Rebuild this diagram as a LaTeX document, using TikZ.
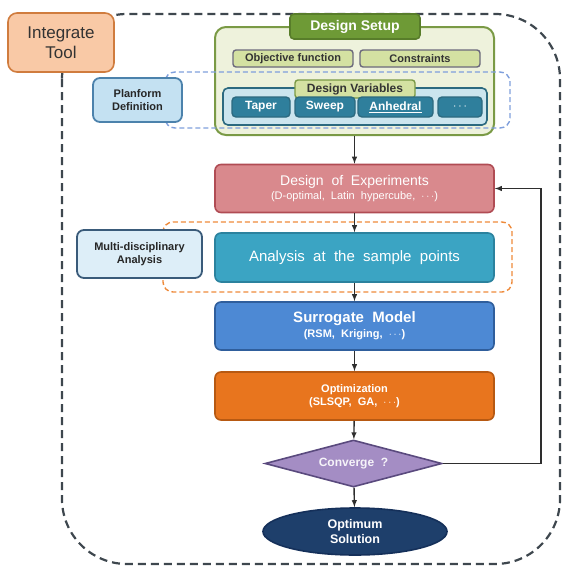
\documentclass[tikz,border=0pt]{standalone}
\usepackage{fontspec}
\setmainfont{Liberation Sans}
\usetikzlibrary{shapes.geometric}
\usetikzlibrary{arrows.meta}
\tikzset{>=latex}
\definecolor{toolfill}{HTML}{F9C9A6}
\definecolor{tooldraw}{HTML}{D07C3E}
\definecolor{setupfill}{HTML}{EEF2DC}
\definecolor{setupdraw}{HTML}{7A9A45}
\definecolor{titlefill}{HTML}{6E9A36}
\definecolor{titledraw}{HTML}{587D2A}
\definecolor{itemfill}{HTML}{D4E1A2}
\definecolor{itemdraw}{HTML}{6C6A7C}
\definecolor{varfill}{HTML}{CBE5EE}
\definecolor{vardraw}{HTML}{2C6A80}
\definecolor{varbox}{HTML}{2F7F9C}
\definecolor{planfill}{HTML}{C4E1F2}
\definecolor{plandraw}{HTML}{4C82AC}
\definecolor{plandash}{HTML}{7F9FDC}
\definecolor{doefill}{HTML}{D9898D}
\definecolor{doedraw}{HTML}{B04C54}
\definecolor{mdafill}{HTML}{DDEEF8}
\definecolor{mdadraw}{HTML}{3A5B7A}
\definecolor{mdadash}{HTML}{EE8A3A}
\definecolor{anafill}{HTML}{3BA4C3}
\definecolor{anadraw}{HTML}{2B829E}
\definecolor{surfill}{HTML}{4D89D4}
\definecolor{surdraw}{HTML}{2F5E9C}
\definecolor{optfill}{HTML}{E8751E}
\definecolor{optdraw}{HTML}{B75912}
\definecolor{convfill}{HTML}{A48DC4}
\definecolor{convdraw}{HTML}{5A4A7E}
\definecolor{solfill}{HTML}{1E3F6B}
\definecolor{soldraw}{HTML}{15305A}
\definecolor{outline}{HTML}{3E474E}
\definecolor{flow}{HTML}{2E2E2E}
\tikzset{box/.style={rectangle,rounded corners=6pt,line width=1.6pt,inner sep=0pt,align=center,text=white,font=\bfseries\fontsize{11}{13}\selectfont}}
\tikzset{stage/.style={box,minimum width=279pt,minimum height=48pt}}
\tikzset{item/.style={box,text=black!80,fill=itemfill,draw=itemdraw,rounded corners=3pt,line width=1.4pt,minimum height=17pt}}
\tikzset{var/.style={box,fill=varbox,draw=vardraw,rounded corners=4pt,line width=1.4pt,minimum height=20pt,font=\bfseries\fontsize{12}{14}\selectfont}}
\tikzset{side/.style={box,text=black!85,rounded corners=7pt,line width=1.8pt,font=\bfseries\fontsize{11}{13.5}\selectfont}}
\tikzset{group/.style={rounded corners=10pt,line width=1.4pt,dash pattern=on 5pt off 3pt}}
\tikzset{link/.style={->,line width=1.4pt,draw=flow}}

\begin{document}
\begin{tikzpicture}[x=1pt,y=-1pt]
\useasboundingbox (0,0) rectangle (563,566);
\draw[outline,line width=2.2pt,dash pattern=on 8pt off 5pt,rounded corners=65pt] (62,14) rectangle (560,564);
\node[box,fill=toolfill,draw=tooldraw,text=black!80,rounded corners=9pt,minimum width=106pt,minimum height=59pt,font=\fontsize{17}{20}\selectfont] (tool) at (61,42.5) {Integrate\\Tool};

\node[box,fill=setupfill,draw=setupdraw,rounded corners=11pt,line width=2pt,minimum width=279pt,minimum height=108pt] (setup) at (354.5,81) {};
\draw[group,draw=plandash] (165,72) rectangle (510,128);
\node[box,fill=titlefill,draw=titledraw,rounded corners=4pt,minimum width=130pt,minimum height=25pt,font=\bfseries\fontsize{14}{16}\selectfont] (title) at (355,26.5) {Design Setup};
\node[item,minimum width=120pt] (obj) at (293,58.5) {Objective function};
\node[item,minimum width=120pt] (con) at (420,58.5) {Constraints};
\node[box,fill=varfill,draw=vardraw,rounded corners=5pt,minimum width=264pt,minimum height=37pt] (vars) at (355,106.5) {};
\node[item,draw=setupdraw,minimum width=120pt,minimum height=18pt,font=\bfseries\fontsize{12}{14}\selectfont] (varlabel) at (355,89) {Design Variables};
\node[var,minimum width=58pt] (taper) at (261,107) {Taper};
\node[var,minimum width=60pt] (sweep) at (325,107) {Sweep};
\node[var,minimum width=75pt] (anh) at (395.5,107) {\underline{Anhedral}};
\node[var,minimum width=44pt] (more) at (460,107) {$\cdots$};
\node[side,fill=planfill,draw=plandraw,minimum width=89pt,minimum height=44pt] (plan) at (137.5,100) {Planform\\Definition};

\node[stage,fill=doefill,draw=doedraw,font=\fontsize{14}{15}\selectfont] (doe) at (354.5,188.5) {Design\ \ of\ \ Experiments\\[-1pt]{\fontsize{11}{13}\selectfont(D-optimal,\ \ Latin\ \ hypercube,\ \ $\cdots$)}};
\draw[group,draw=mdadash] (163,222) rectangle (512,292);
\node[stage,fill=anafill,draw=anadraw,minimum height=49pt,font=\fontsize{15}{18}\selectfont] (ana) at (354.5,257.5) {Analysis\ \ at\ \ the\ \ sample\ \ points};
\node[side,fill=mdafill,draw=mdadraw,minimum width=125pt,minimum height=48pt] (mda) at (139.5,254) {Multi-disciplinary\\Analysis};
\node[stage,fill=surfill,draw=surdraw,font=\bfseries\fontsize{15}{16}\selectfont] (sur) at (354.5,326) {Surrogate\ \ Model\\[-1pt]{\fontsize{11}{13}\selectfont(RSM,\ \ Kriging,\ \ $\cdots$)}};
\node[stage,fill=optfill,draw=optdraw] (opt) at (354.5,396) {Optimization\\(SLSQP,\ \ GA,\ \ $\cdots$)};
\node[diamond,aspect=3.7,inner sep=0pt,minimum width=177pt,minimum height=47pt,fill=convfill,draw=convdraw,line width=1.6pt,text=white!90!convfill,font=\bfseries\fontsize{12}{14}\selectfont] (conv) at (353.5,463.5) {Converge\ \ ?};
\node[ellipse,inner sep=0pt,minimum width=184pt,minimum height=47pt,fill=solfill,draw=soldraw,line width=1.6pt,text=white,align=center,font=\bfseries\fontsize{12.5}{15}\selectfont] (sol) at (355,531.5) {Optimum\\Solution};

\coordinate (back) at (541,463.5);
\draw[link] (setup) -- (doe);
\draw[link] (doe) -- (ana);
\draw[link] (ana) -- (sur);
\draw[link] (sur) -- (opt);
\draw[link] (opt) -- (conv);
\draw[link] (conv) -- (sol);
\draw[link] (conv.east) -- (back) |- (doe.east);
\end{tikzpicture}
\end{document}
